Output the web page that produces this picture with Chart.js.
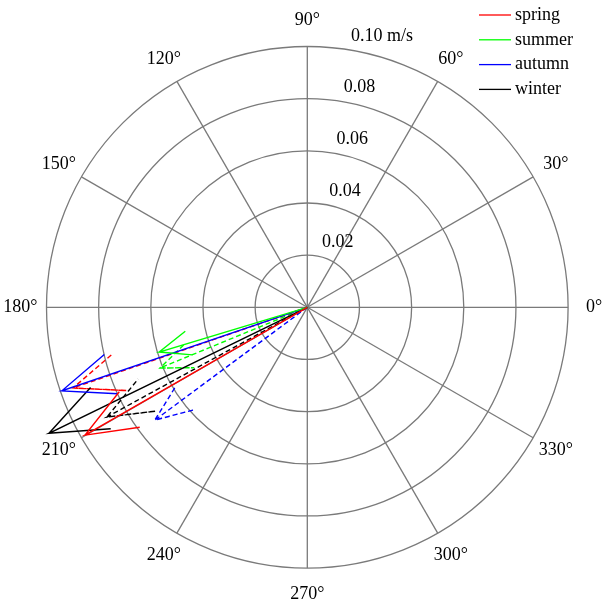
<!DOCTYPE html>
<html>
<head>
<meta charset="utf-8">
<script src="https://cdn.jsdelivr.net/npm/chart.js@4.4.1/dist/chart.umd.min.js"></script>
<style>
  html, body { margin: 0; padding: 0; background: #ffffff; }
  #wrap { width: 604px; height: 602px; }
</style>
</head>
<body>
<div id="wrap"><canvas id="compass" width="604" height="602"></canvas></div>
<script>
// seasons and their mean vectors (speed in m/s, direction in degrees)
const seasons = ['spring', 'summer', 'autumn', 'winter'];
const solidSpeed = [0.0983, 0.0593, 0.0994, 0.1102];
const solidDir = [209.9, 196.8, 198.8, 206.0];
const dashedSpeed = [0.0950, 0.0611, 0.0727, 0.0876];
const dashedDir = [199.0, 202.4, 216.5, 208.7];

// tick labels
const rhoTicks = [0.02, 0.04, 0.06, 0.08, 0.10];
const rhoLabels = ['0.02', '0.04', '0.06', '0.08', '0.10 m/s'];
const thetaTicks = [0, 30, 60, 90, 120, 150, 180, 210, 240, 270, 300, 330];

const colors = ['#ff0000', '#00ff00', '#0000ff', '#000000'];
const rMax = 0.10;
const FONT = '18px "Liberation Serif", "Times New Roman", serif';

// compass arrow: origin -> tip -> head -> tip -> head
function arrow(speed, dir) {
  const a = dir * Math.PI / 180;
  const u = speed * Math.cos(a), v = speed * Math.sin(a);
  const mul = (re, im) => ({ x: u * re - v * im, y: u * im + v * re });
  return [{ x: 0, y: 0 }, mul(1, 0), mul(0.8, 0.08), mul(1, 0), mul(0.8, -0.08)];
}

const datasets = [];
seasons.forEach((s, i) => {
  datasets.push({
    label: s,
    data: arrow(solidSpeed[i], solidDir[i]),
    borderColor: colors[i],
    borderWidth: 1.4,
    showLine: true,
    pointRadius: 0,
    fill: false,
    clip: false,
  });
});
seasons.forEach((s, i) => {
  datasets.push({
    label: s + ' (dashed)',
    data: arrow(dashedSpeed[i], dashedDir[i]),
    borderColor: colors[i],
    borderWidth: 1.4,
    borderDash: [5, 3],
    showLine: true,
    pointRadius: 0,
    fill: false,
    clip: false,
  });
});

// polar grid, labels and legend
const polarGrid = {
  id: 'polarGrid',
  beforeDatasetsDraw(chart) {
    const { ctx, scales: { x, y } } = chart;
    const cx = x.getPixelForValue(0), cy = y.getPixelForValue(0);
    const pr = (r) => x.getPixelForValue(r) - cx;
    ctx.save();
    ctx.strokeStyle = '#7a7a7a';
    ctx.lineWidth = 1.3;
    rhoTicks.forEach(r => {
      ctx.beginPath();
      ctx.arc(cx, cy, pr(r), 0, Math.PI * 2);
      ctx.stroke();
    });
    thetaTicks.forEach(t => {
      const a = t * Math.PI / 180;
      ctx.beginPath();
      ctx.moveTo(cx, cy);
      ctx.lineTo(x.getPixelForValue(rMax * Math.cos(a)), y.getPixelForValue(rMax * Math.sin(a)));
      ctx.stroke();
    });

    ctx.fillStyle = '#000000';
    ctx.font = FONT;
    ctx.textAlign = 'center';
    ctx.textBaseline = 'middle';
    thetaTicks.forEach(t => {
      const a = t * Math.PI / 180;
      ctx.fillText(t + '°',
        x.getPixelForValue(1.1 * rMax * Math.cos(a)),
        y.getPixelForValue(1.1 * rMax * Math.sin(a)));
    });

    // rho labels along 82 degrees
    const a82 = 82 * Math.PI / 180;
    ctx.textAlign = 'left';
    rhoTicks.forEach((r, i) => {
      const px = x.getPixelForValue(r * Math.cos(a82));
      const py = y.getPixelForValue(r * Math.sin(a82));
      ctx.fillText(rhoLabels[i], px + 7.5, py - 13);
    });
    ctx.restore();
  },
  afterDraw(chart) {
    const { ctx } = chart;
    ctx.save();
    ctx.font = FONT;
    ctx.textBaseline = 'middle';
    ctx.textAlign = 'left';
    seasons.forEach((s, i) => {
      const yy = 15 + i * 24.8;
      ctx.strokeStyle = colors[i];
      ctx.lineWidth = 1.3;
      ctx.beginPath();
      ctx.moveTo(479, yy);
      ctx.lineTo(511, yy);
      ctx.stroke();
      ctx.fillStyle = '#000000';
      ctx.fillText(s, 515, yy);
    });
    ctx.restore();
  }
};

new Chart(document.getElementById('compass').getContext('2d'), {
  type: 'scatter',
  data: { datasets },
  options: {
    responsive: false,
    animation: false,
    layout: { padding: { left: 46.5, right: 35.9, top: 46.5, bottom: 33.9 } },
    plugins: { legend: { display: false }, tooltip: { enabled: false } },
    events: [],
    scales: {
      x: { type: 'linear', min: -rMax, max: rMax, display: false },
      y: { type: 'linear', min: -rMax, max: rMax, display: false },
    },
  },
  plugins: [polarGrid],
});
</script>
</body>
</html>
